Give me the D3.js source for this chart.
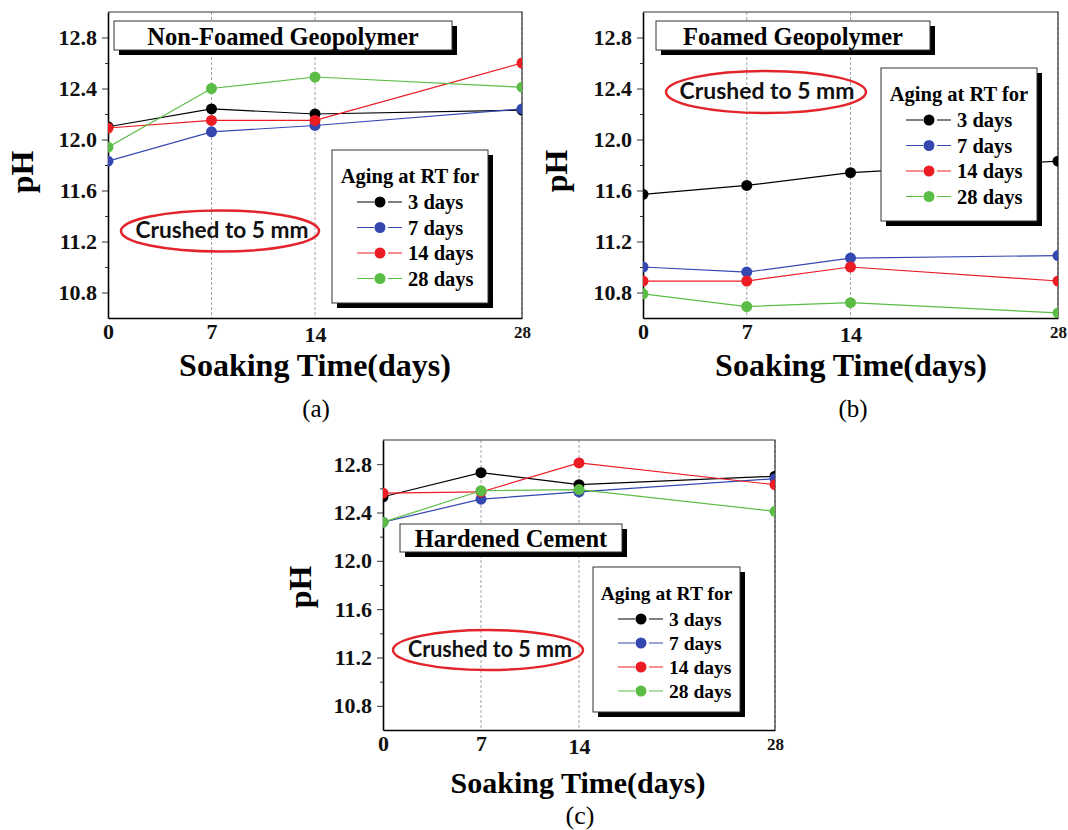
<!doctype html>
<html lang="en">
<head>
    <meta charset="UTF-8">
    <title>pH vs soaking time</title>
    <style>
        body { margin: 0; background: #fff; }
        svg { display: block; }
        .serif { font-family: "Liberation Serif", "Times New Roman", serif; font-weight: bold; }
    </style>
</head>
<body>
    <svg width="1068" height="830"></svg>
    <script src="https://cdn.jsdelivr.net/npm/d3@7/dist/d3.min.js"></script>
    <script>
        // soaking time (days) and aging series
        const days = [0, 7, 14, 28];
        const agingLabels = ["3 days", "7 days", "14 days", "28 days"];
        const seriesColors = ["#000000", "#3448b0", "#ec1c24", "#5bbd45"];
        const yMajorTicks = [10.8, 11.2, 11.6, 12.0, 12.4, 12.8];
        const yMinorTicks = [11.0, 11.4, 11.8, 12.2, 12.6];

        // pH values, one row per aging time (3, 7, 14, 28 days)
        const nonFoamed = [
            [12.10, 12.24, 12.20, 12.23],
            [11.83, 12.06, 12.11, 12.24],
            [12.09, 12.15, 12.15, 12.60],
            [11.94, 12.40, 12.49, 12.41]
        ];
        const foamed = [
            [11.57, 11.64, 11.74, 11.83],
            [11.00, 10.96, 11.07, 11.09],
            [10.89, 10.89, 11.00, 10.89],
            [10.79, 10.69, 10.72, 10.64]
        ];
        const cement = [
            [12.53, 12.73, 12.63, 12.70],
            [12.32, 12.51, 12.57, 12.68],
            [12.56, 12.57, 12.81, 12.63],
            [12.32, 12.58, 12.59, 12.41]
        ];

        const panels = [
            {id: "a", data: nonFoamed, title: "Non-Foamed Geopolymer", tag: "(a)",
             left: 108, top: 12, width: 414, height: 306,
             titleBox: [114, 21, 338, 29], legend: [332, 150, 156, 153], rowGap: 25.5, legFont: 20.5,
             ellipse: [220, 231, 99, 20.5], crushed: [222, 238, 173],
             ylab: [33, 172], xlab: [315, 376, 32], tagPos: [316, 417, 25]},
            {id: "b", data: foamed, title: "Foamed Geopolymer", tag: "(b)",
             left: 643, top: 12, width: 415, height: 306,
             titleBox: [656, 21, 274, 29], legend: [881, 68, 156, 153], rowGap: 25.5, legFont: 20.5,
             ellipse: [766, 92, 100, 21], crushed: [767, 99, 175],
             ylab: [567, 171], xlab: [851, 376, 32], tagPos: [853, 417, 25]},
            {id: "c", data: cement, title: "Hardened Cement", tag: "(c)",
             left: 383, top: 440, width: 392, height: 290,
             titleBox: [400, 524, 222, 28], legend: [593, 567, 147, 145], rowGap: 24, legFont: 19.5,
             ellipse: [488, 650, 95, 20], crushed: [490, 657, 164],
             ylab: [311, 587], xlab: [578, 793, 30], tagPos: [580, 824, 26]}
        ];

        const svg = d3.select("svg");
        svg.append("rect").attr("width", 1068).attr("height", 830).attr("fill", "#fff");

        panels.forEach(drawPanel);

        function shadowBox(g, x0, y0, w, h) {
            g.append("rect").attr("x", x0 + 5).attr("y", y0 + 5).attr("width", w).attr("height", h).attr("fill", "#000");
            g.append("rect").attr("x", x0).attr("y", y0).attr("width", w).attr("height", h)
                .attr("fill", "#fff").attr("stroke", "#333").attr("stroke-width", 1);
        }

        function drawPanel(p) {
            const g = svg.append("g");
            const x = d3.scaleLinear().domain([0, 28]).range([p.left, p.left + p.width]);
            const y = d3.scaleLinear().domain([10.6, 13.0]).range([p.top + p.height, p.top]);
            const bottom = p.top + p.height, right = p.left + p.width;

            // dashed verticals
            g.selectAll("line.grid").data([7, 14, 28]).join("line")
                .attr("class", "grid")
                .attr("x1", d => x(d)).attr("x2", d => x(d))
                .attr("y1", p.top).attr("y2", bottom)
                .attr("stroke", "#8a8a8a").attr("stroke-width", 0.8).attr("stroke-dasharray", "3,2");

            // top and right frame
            g.append("path").attr("d", `M${p.left},${p.top}H${right}V${bottom}`)
                .attr("fill", "none").attr("stroke", "#333").attr("stroke-width", 1.2);

            // y axis
            const yAxis = g.append("g").attr("transform", `translate(${p.left},0)`)
                .call(d3.axisLeft(y).tickValues(yMajorTicks).tickFormat(d3.format(".1f"))
                    .tickSize(6).tickSizeOuter(0).tickPadding(5));
            yAxis.select(".domain").attr("stroke", "#000").attr("stroke-width", 1.6);
            yAxis.selectAll(".tick line").attr("stroke", "#333");
            yAxis.selectAll("text").attr("class", "serif").attr("font-size", 22).attr("fill", "#111");
            g.append("g").attr("transform", `translate(${p.left},0)`)
                .call(d3.axisLeft(y).tickValues(yMinorTicks).tickFormat("").tickSize(3).tickSizeOuter(0))
                .call(a => a.select(".domain").remove())
                .selectAll(".tick line").attr("stroke", "#333");

            // x axis
            const xAxis = g.append("g").attr("transform", `translate(0,${bottom})`)
                .call(d3.axisBottom(x).tickValues(days).tickSize(0).tickSizeOuter(0).tickPadding(6));
            xAxis.select(".domain").attr("stroke", "#000").attr("stroke-width", 1.6);
            xAxis.selectAll("text").attr("class", "serif").attr("fill", "#111")
                .attr("font-size", d => d === 28 ? 17 : 22)
                .attr("y", d => d === 14 ? 8 : (d === 28 ? 8 : 5));

            // series
            g.append("clipPath").attr("id", "clip-" + p.id)
                .append("rect").attr("x", p.left).attr("y", p.top).attr("width", p.width).attr("height", p.height);
            const plot = g.append("g").attr("clip-path", `url(#clip-${p.id})`);
            const line = d3.line().x((d, i) => x(days[i])).y(d => y(d));
            p.data.forEach((vals, si) => {
                plot.append("path").attr("d", line(vals))
                    .attr("fill", "none").attr("stroke", seriesColors[si]).attr("stroke-width", 1.2);
                plot.selectAll(null).data(vals).join("circle")
                    .attr("cx", (d, i) => x(days[i])).attr("cy", d => y(d)).attr("r", 5.5)
                    .attr("fill", seriesColors[si]);
            });

            // title box
            const [tx, ty, tw, th] = p.titleBox;
            shadowBox(g, tx, ty, tw, th);
            g.append("text").attr("class", "serif").attr("font-size", 24.5)
                .attr("x", tx + tw / 2).attr("y", ty + th - 5).attr("text-anchor", "middle")
                .text(p.title);

            // crushed ellipse
            const [ex, ey, rx, ry] = p.ellipse;
            g.append("ellipse").attr("cx", ex).attr("cy", ey).attr("rx", rx).attr("ry", ry)
                .attr("fill", "none").attr("stroke", "#e3242b").attr("stroke-width", 2.5);
            g.append("text").attr("x", p.crushed[0]).attr("y", p.crushed[1])
                .attr("text-anchor", "middle")
                .attr("font-family", "Lato, 'Open Sans', sans-serif").attr("font-weight", "bold")
                .attr("font-size", 23).attr("fill", "#111")
                .attr("textLength", p.crushed[2]).attr("lengthAdjust", "spacingAndGlyphs")
                .text("Crushed to 5 mm");

            // legend
            const [lx, ly, lw, lh] = p.legend;
            shadowBox(g, lx, ly, lw, lh);
            g.append("text").attr("class", "serif").attr("font-size", p.legFont)
                .attr("x", lx + lw / 2).attr("y", ly + 33).attr("text-anchor", "middle")
                .text("Aging at RT for");
            agingLabels.forEach((lab, i) => {
                const cy = ly + 52 + i * p.rowGap;
                g.append("line").attr("x1", lx + 25).attr("x2", lx + 70).attr("y1", cy).attr("y2", cy)
                    .attr("stroke", seriesColors[i]).attr("stroke-width", 1.2);
                g.append("rect").attr("x", lx + 42).attr("y", cy - 2).attr("width", 14).attr("height", 4).attr("fill", "#fff");
                g.append("circle").attr("cx", lx + 48).attr("cy", cy).attr("r", 5.5).attr("fill", seriesColors[i]);
                g.append("text").attr("class", "serif").attr("font-size", p.legFont)
                    .attr("x", lx + 76).attr("y", cy + 7).text(lab);
            });

            // axis titles
            g.append("text").attr("class", "serif").attr("font-size", 32)
                .attr("transform", `translate(${p.ylab[0]},${p.ylab[1]}) rotate(-90)`)
                .attr("text-anchor", "middle").text("pH");
            g.append("text").attr("class", "serif").attr("font-size", p.xlab[2])
                .attr("x", p.xlab[0]).attr("y", p.xlab[1]).attr("text-anchor", "middle")
                .text("Soaking Time(days)");
            g.append("text").attr("font-family", "'Liberation Serif', serif").attr("font-size", p.tagPos[2])
                .attr("x", p.tagPos[0]).attr("y", p.tagPos[1]).attr("text-anchor", "middle")
                .text(p.tag);
        }
    </script>
</body>
</html>
